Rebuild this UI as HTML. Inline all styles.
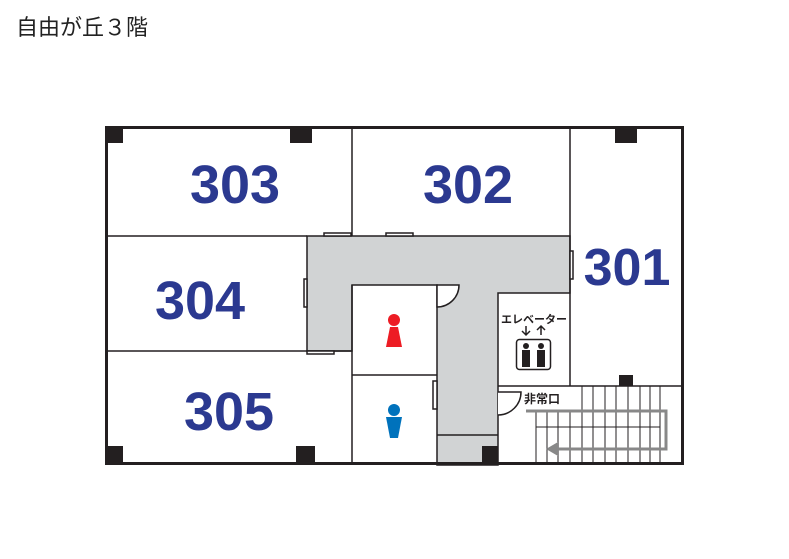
<!DOCTYPE html>
<html><head><meta charset="utf-8"><style>
html,body{margin:0;padding:0;background:#fff;width:789px;height:559px;overflow:hidden}
svg{display:block}
</style></head><body>
<svg width="789" height="559" viewBox="0 0 789 559" xmlns="http://www.w3.org/2000/svg" font-family="'Liberation Sans','Noto Sans CJK JP',sans-serif">
<text x="16" y="35" font-size="22" fill="#222">自由が丘３階</text>
<path d="M307,236 H570 V293 H498 V465 H437 V285 H352 V351 H307 Z" fill="#d1d3d4" stroke="#231f20" stroke-width="1.5"/>
<line x1="437" y1="435" x2="498" y2="435" stroke="#231f20" stroke-width="1.5"/>
<g stroke="#231f20" stroke-width="1.5" fill="none">
<line x1="352" y1="126" x2="352" y2="236"/>
<line x1="105" y1="236" x2="307" y2="236"/>
<line x1="105" y1="351" x2="352" y2="351"/>
<line x1="352" y1="285" x2="352" y2="465"/>
<line x1="352" y1="375" x2="437" y2="375"/>
<line x1="570" y1="126" x2="570" y2="386"/>
<line x1="498" y1="386" x2="684" y2="386"/>
<rect x="324" y="233" width="27" height="3" fill="#fff"/>
<rect x="386" y="233" width="27" height="3" fill="#fff"/>
<rect x="304" y="279" width="3" height="28" fill="#fff"/>
<rect x="307" y="351" width="27" height="3" fill="#fff"/>
<rect x="570" y="251" width="3" height="28" fill="#fff"/>
<rect x="433" y="381" width="4" height="28" fill="#fff"/>
<path d="M437,307 A22,22 0 0 0 459,285 H437 Z" fill="#fff"/>
<path d="M498,415 A23,23 0 0 0 521,392 H498" fill="#fff"/>
</g>
<g stroke="#231f20" stroke-width="1">
<line x1="536" y1="427" x2="660" y2="427"/>
<line x1="536" y1="410" x2="536" y2="465"/>
<line x1="547" y1="410" x2="547" y2="465"/>
<line x1="558" y1="410" x2="558" y2="465"/>
<line x1="570" y1="410" x2="570" y2="465"/>
<line x1="582" y1="386" x2="582" y2="465"/>
<line x1="593" y1="386" x2="593" y2="465"/>
<line x1="605" y1="386" x2="605" y2="465"/>
<line x1="616" y1="386" x2="616" y2="465"/>
<line x1="628" y1="386" x2="628" y2="465"/>
<line x1="640" y1="386" x2="640" y2="465"/>
<line x1="650" y1="386" x2="650" y2="465"/>
<line x1="660" y1="386" x2="660" y2="465"/>
</g>
<path d="M526,411 H666 V449 H557" fill="none" stroke="#888" stroke-width="3"/>
<polygon points="546,449 558,442 558,456" fill="#888"/>
<rect x="106.5" y="127.5" width="576" height="336" fill="none" stroke="#231f20" stroke-width="3"/>
<g fill="#231f20">
<rect x="105" y="126" width="18" height="17"/>
<rect x="290" y="126" width="22" height="17"/>
<rect x="615" y="126" width="22" height="17"/>
<rect x="105" y="446" width="18" height="19"/>
<rect x="296" y="446" width="19" height="19"/>
<rect x="482" y="446" width="16" height="19"/>
<rect x="619" y="375" width="14" height="11"/>
</g>
<g font-weight="bold" font-size="54" fill="#2b3990" text-anchor="middle">
<text x="235" y="203">303</text>
<text x="468" y="203">302</text>
<text x="627" y="285" font-size="52">301</text>
<text x="200" y="319">304</text>
<text x="229" y="430">305</text>
</g>
<circle cx="394" cy="320" r="6" fill="#ed1c24"/>
<polygon points="390,327 398,327 402,347 386,347" fill="#ed1c24"/>
<circle cx="394" cy="410" r="6" fill="#0072bc"/>
<polygon points="386,417 402,417 398,438 390,438" fill="#0072bc"/>
<text x="534" y="323" font-size="11" font-weight="bold" text-anchor="middle" fill="#231f20">エレベーター</text>
<g stroke="#231f20" stroke-width="1.5" fill="none">
<path d="M526,326 V335 M522,331 L526,335 L530,331"/>
<path d="M541,335 V326 M537,330 L541,326 L545,330"/>
<rect x="516.5" y="339.5" width="34" height="30" rx="3"/>
</g>
<g fill="#231f20">
<circle cx="526" cy="346" r="3"/><rect x="522" y="350" width="8" height="17"/>
<circle cx="541" cy="346" r="3"/><rect x="537" y="350" width="8" height="17"/>
</g>
<text x="524" y="403" font-size="12" font-weight="bold" fill="#231f20">非常口</text>
</svg>
</body></html>
